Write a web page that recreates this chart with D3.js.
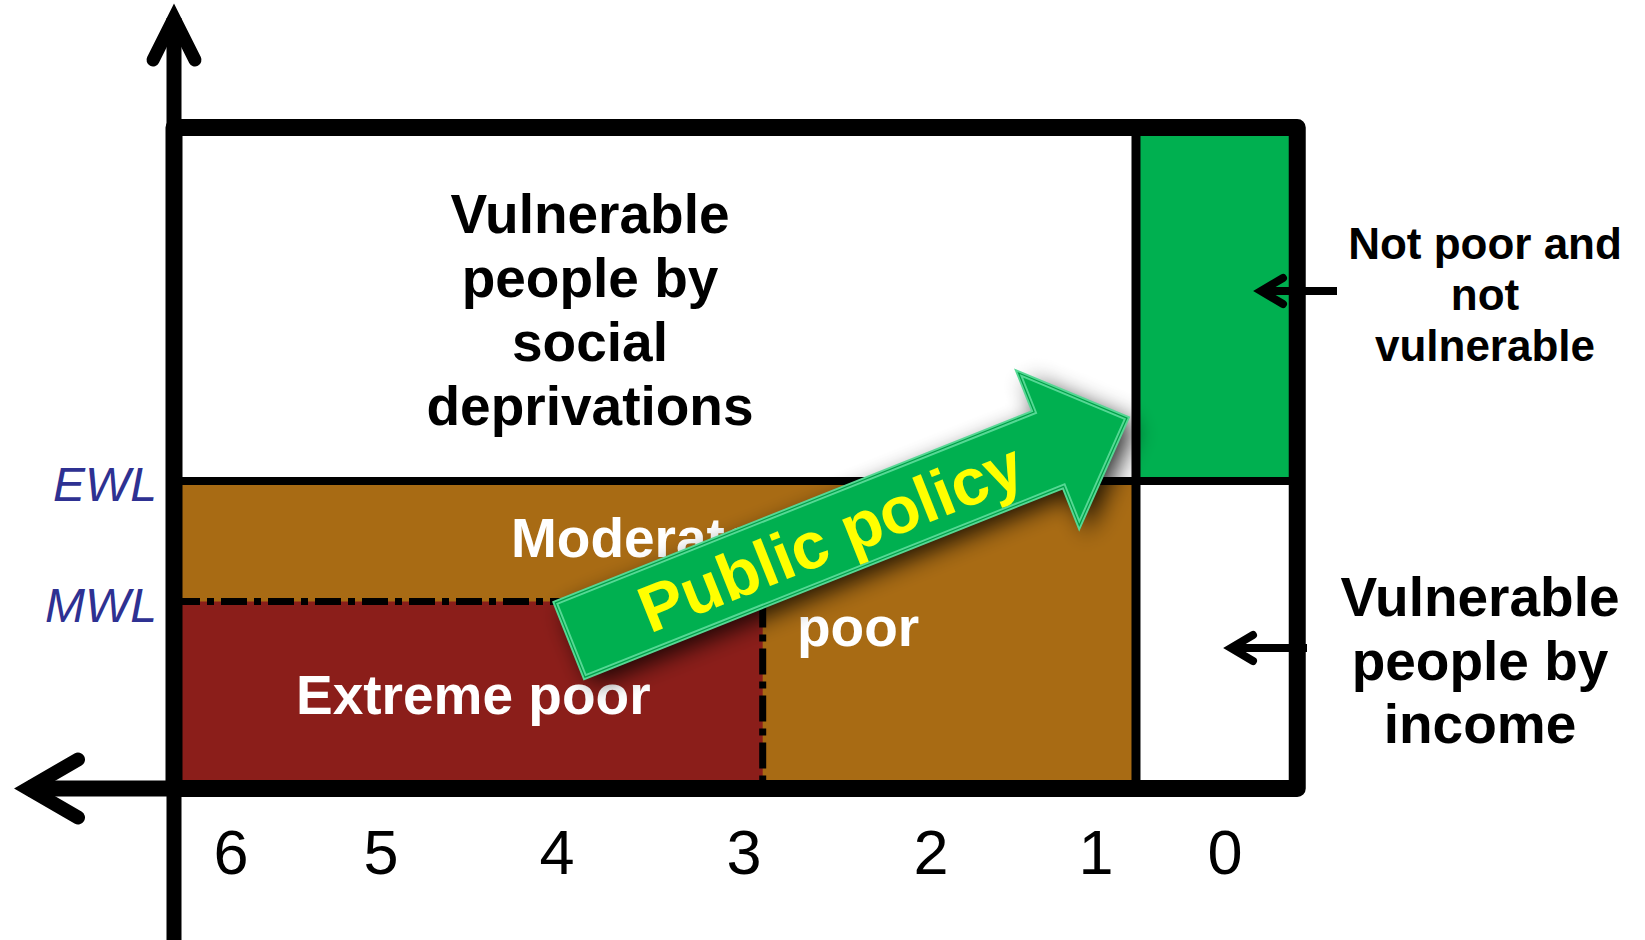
<!DOCTYPE html>
<html><head><meta charset="utf-8">
<script src="https://cdn.jsdelivr.net/npm/d3@7"></script>
<style>html,body{margin:0;padding:0;background:#fff;overflow:hidden}</style>
</head><body>
<svg id="chart" width="1645" height="940"></svg>
<script>
// ---------------- data ----------------
const xTicks = [6, 5, 4, 3, 2, 1, 0];                 // number of social deprivations
const tickLabels = ["6", "5", "4", "3", "2", "1", "0"];
const incomeLevels = [0, 1, 2, 3];                    // origin, MWL, EWL, top of frame
const incomeLines = [{name: "MWL", level: 1}, {name: "EWL", level: 2}];
const frameDeprivations = [6.38, -0.56];              // left / right extent of the frame
const deprivationCut = 0.69;                          // boundary between 1 and 0 deprivations
const extremeCut = 2.9;                               // boundary of extreme poverty
const regionNames = ["socialVulnerable", "notPoor", "moderatePoor", "extremePoor", "incomeVulnerable"];
const regionX0 = [6.38, 0.69, 6.38, 6.38, 0.69];
const regionX1 = [0.69, -0.56, 0.69, 2.9, -0.56];
const regionY0 = [2, 2, 0, 0, 0];
const regionY1 = [3, 3, 2, 1, 2];
const socialLabel = ["Vulnerable", "people by", "social", "deprivations"];
const notPoorLabel = ["Not poor and", "not", "vulnerable"];
const incomeLabel = ["Vulnerable", "people by", "income"];
const moderateLabel = ["Moderate", "poor"];
const extremeLabel = ["Extreme poor"];
const policyLabel = "Public policy";
const policyFrom = [3.93, 0.794];   // (deprivations, income level)
const policyTo = [0.76, 2.178];

// ---------------- scales ----------------
const svg = d3.select("#chart");
const x = d3.scaleLinear().domain(xTicks).range([231, 381, 557, 744, 931, 1096, 1225]);
const y = d3.scaleLinear().domain(incomeLevels).range([788.5, 601.5, 481, 127.5]);

const fills = {
  socialVulnerable: "#FFFFFF", notPoor: "#00B050", moderatePoor: "#A86B14",
  extremePoor: "#8B1E1A", incomeVulnerable: "#FFFFFF"
};
const FONT = "'Liberation Sans', Arial, sans-serif";

const defs = svg.append("defs");
const f = defs.append("filter").attr("id", "shadow")
  .attr("x", "-30%").attr("y", "-60%").attr("width", "160%").attr("height", "220%");
f.append("feGaussianBlur").attr("in", "SourceAlpha").attr("stdDeviation", 12).attr("result", "b");
f.append("feOffset").attr("in", "b").attr("dx", 5).attr("dy", 10).attr("result", "o");
f.append("feComponentTransfer").attr("in", "o").attr("result", "s")
  .append("feFuncA").attr("type", "linear").attr("slope", 0.85);
const m = f.append("feMerge");
m.append("feMergeNode").attr("in", "s");
m.append("feMergeNode").attr("in", "SourceGraphic");

// ---------------- regions ----------------
const regions = regionNames.map((n, i) => ({name: n, x0: regionX0[i], x1: regionX1[i], y0: regionY0[i], y1: regionY1[i]}));
svg.append("g").selectAll("rect").data(regions).join("rect")
  .attr("x", d => Math.min(x(d.x0), x(d.x1)))
  .attr("width", d => Math.abs(x(d.x1) - x(d.x0)))
  .attr("y", d => y(d.y1))
  .attr("height", d => y(d.y0) - y(d.y1))
  .attr("fill", d => fills[d.name]);

// dashed boundary of extreme poverty
svg.append("line")
  .attr("x1", x(frameDeprivations[0])).attr("x2", x(extremeCut))
  .attr("y1", y(1)).attr("y2", y(1))
  .attr("stroke", "#000").attr("stroke-width", 7).attr("stroke-dasharray", "26,7,7,7");
svg.append("line")
  .attr("x1", x(extremeCut)).attr("x2", x(extremeCut))
  .attr("y1", y(1)).attr("y2", y(0))
  .attr("stroke", "#000").attr("stroke-width", 7).attr("stroke-dasharray", "26,7,7,7");

// EWL line
svg.append("line")
  .attr("x1", x(frameDeprivations[0])).attr("x2", x(frameDeprivations[1]))
  .attr("y1", y(2)).attr("y2", y(2))
  .attr("stroke", "#000").attr("stroke-width", 8);
// deprivation cut
svg.append("line")
  .attr("x1", x(deprivationCut)).attr("x2", x(deprivationCut))
  .attr("y1", y(3)).attr("y2", y(0))
  .attr("stroke", "#000").attr("stroke-width", 9);

// ---------------- region labels ----------------
function block(lines, cx, baselines, size, color, anchor) {
  const g = svg.append("g");
  lines.forEach((t, i) => {
    g.append("text").attr("x", Array.isArray(cx) ? cx[i] : cx).attr("y", baselines[i])
      .attr("text-anchor", anchor || "middle")
      .attr("font-family", FONT).attr("font-weight", "bold")
      .attr("font-size", size).attr("fill", color).text(t);
  });
}
block(socialLabel, 590, [233, 297, 361, 425], 55, "#000");
block(moderateLabel, [511, 797], [557, 646], 55, "#fff", "start");
block(extremeLabel, 296, [714], 55, "#fff", "start");
block(notPoorLabel, 1485, [259, 310, 361], 44, "#000");
block(incomeLabel, 1480, [616, 680, 743], 55, "#000");

// ---------------- public policy arrow ----------------
const p0 = [x(policyFrom[0]), y(policyFrom[1])];
const p1 = [x(policyTo[0]), y(policyTo[1])];
const L = Math.hypot(p1[0] - p0[0], p1[1] - p0[1]);
const ang = Math.atan2(p1[1] - p0[1], p1[0] - p0[0]) * 180 / Math.PI;
const hs = 40, hh = 82, hl = 84;
const ga = svg.append("g").attr("transform", `translate(${p0[0]},${p0[1]}) rotate(${ang})`);
const arrowPath = `M0,${-hs} L${L - hl},${-hs} L${L - hl},${-hh} L${L},0 L${L - hl},${hh} L${L - hl},${hs} L0,${hs} Z`;
ga.append("path").attr("d", arrowPath).attr("fill", "#00B050").attr("filter", "url(#shadow)");
ga.append("path").attr("d", arrowPath).attr("fill", "#00B050")
  .attr("stroke", "#55D894").attr("stroke-width", 5).attr("stroke-linejoin", "miter");
ga.append("path").attr("d", arrowPath).attr("fill", "none")
  .attr("stroke", "#00A048").attr("stroke-width", 1.2);
ga.append("text").attr("x", 280).attr("y", 0).attr("dy", "0.36em")
  .attr("text-anchor", "middle").attr("font-family", FONT)
  .attr("font-weight", "bold").attr("font-size", 66).attr("fill", "#FFFF00").text(policyLabel);

// ---------------- frame ----------------
svg.append("rect")
  .attr("x", x(frameDeprivations[0])).attr("y", y(3))
  .attr("width", x(frameDeprivations[1]) - x(frameDeprivations[0]))
  .attr("height", y(0) - y(3))
  .attr("fill", "none").attr("stroke", "#000").attr("stroke-width", 17)
  .attr("stroke-linejoin", "round");

// ---------------- axes ----------------
const ax = x(frameDeprivations[0]);
const ay = y(0);
// vertical axis
svg.append("line").attr("x1", ax).attr("x2", ax).attr("y1", 18).attr("y2", 940)
  .attr("stroke", "#000").attr("stroke-width", 15);
svg.append("path").attr("d", `M${ax - 21},60 L${ax},18 L${ax + 21},60`)
  .attr("fill", "none").attr("stroke", "#000").attr("stroke-width", 13)
  .attr("stroke-linecap", "round").attr("stroke-linejoin", "miter").attr("stroke-miterlimit", 10);
// horizontal axis (points left)
svg.append("line").attr("x1", 28).attr("x2", ax).attr("y1", ay).attr("y2", ay)
  .attr("stroke", "#000").attr("stroke-width", 16);
svg.append("path").attr("d", `M78,${ay - 29} L28,${ay} L78,${ay + 29}`)
  .attr("fill", "none").attr("stroke", "#000").attr("stroke-width", 14)
  .attr("stroke-linecap", "round").attr("stroke-linejoin", "miter").attr("stroke-miterlimit", 10);

// tick labels
svg.append("g").selectAll("text").data(xTicks).join("text")
  .attr("x", d => x(d)).attr("y", 874)
  .attr("text-anchor", "middle")
  .attr("font-family", FONT)
  .attr("font-size", 63).attr("fill", "#000")
  .text((d, i) => tickLabels[i]);

// income line labels
svg.append("g").selectAll("text").data(incomeLines).join("text")
  .attr("x", 157).attr("y", d => y(d.level) + 20)
  .attr("text-anchor", "end")
  .attr("font-family", FONT)
  .attr("font-style", "italic").attr("font-size", 48).attr("fill", "#2E3192")
  .text(d => d.name);

// ---------------- right annotation arrows ----------------
function leftArrow(tipX, cy, endX) {
  svg.append("line").attr("x1", tipX + 6).attr("x2", endX).attr("y1", cy).attr("y2", cy)
    .attr("stroke", "#000").attr("stroke-width", 8);
  svg.append("path").attr("d", `M${tipX + 22},${cy - 13} L${tipX},${cy} L${tipX + 22},${cy + 13}`)
    .attr("fill", "none").attr("stroke", "#000").attr("stroke-width", 8)
    .attr("stroke-linecap", "round").attr("stroke-linejoin", "miter").attr("stroke-miterlimit", 10);
}
leftArrow(1261, 291, 1337);
leftArrow(1231, 648, 1307);
</script>
</body></html>
